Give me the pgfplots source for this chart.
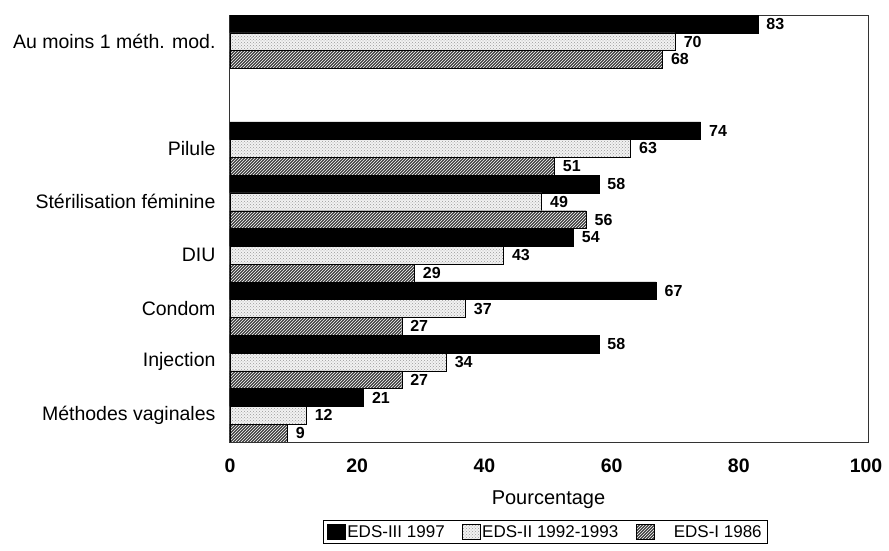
\documentclass[border=0pt]{standalone}
\usepackage{fontspec}
\setmainfont{Liberation Sans}
\usepackage{pgfplots}
\pgfplotsset{compat=1.18}
\usetikzlibrary{patterns}
\begin{document}
\begin{tikzpicture}
\useasboundingbox (-229pt,-109pt) rectangle (660pt,442pt);
\clip (-229pt,-109pt) rectangle (660pt,442pt);
\begin{axis}[
  at={(0,0)}, anchor=south west,
  scale only axis, width=639pt, height=427pt,
  xbar, bar width=0.333,
  xmin=-0.157, xmax=100.31,
  ymin=0.5, ymax=8.5,
  ytick={1,2,3,4,5,6,8},
  yticklabels={Méthodes vaginales, Injection, Condom, DIU, Stérilisation féminine, Pilule, Au moins 1 méth. mod.},
  xtick={0,20,...,100},
  major tick length=0pt,
  /pgf/number format/assume math mode=true,
  xticklabel style={font=\fontsize{19.5}{19.5}\selectfont\bfseries, yshift=-13pt},
  yticklabel style={font=\fontsize{19.5}{19.5}\selectfont, xshift=-10pt},
  xlabel={Pourcentage},
  xlabel style={at={(axis description cs:0.5,-0.136)}, anchor=center, font=\fontsize{20}{20}\selectfont},
  axis line style={black!80, line width=0.6pt},
  point meta=x,
  nodes near coords,
  nodes near coords style={font=\fontsize{16}{16}\selectfont\bfseries, anchor=west, xshift=5pt, black},
  legend columns=3,
  legend image code/.code={\draw[#1, draw=black, line width=0.5pt] (0pt,-7.5pt) rectangle (18pt,7.5pt);},
  legend style={at={(0.495,-0.1827)}, anchor=north, draw=black, line width=0.6pt,
    font=\fontsize{17}{17}\selectfont, inner xsep=4pt, inner ysep=3pt,
    nodes={inner xsep=1.5pt},
    /tikz/every odd column/.append style={column sep=0pt},
    /tikz/every even column/.append style={column sep=16pt}},
]
\addplot[fill=black, draw=black, bar shift=0.333] coordinates {(83,8) (74,6) (58,5) (54,4) (67,3) (58,2) (21,1)};
\addplot[fill=gray!10, draw=black, bar shift=0, postaction={pattern=crosshatch dots, pattern color=gray!80}] coordinates {(70,8) (63,6) (49,5) (43,4) (37,3) (34,2) (12,1)};
\addplot[fill=black!75, draw=black, bar shift=-0.333, postaction={pattern=north east lines, pattern color=white}] coordinates {(68,8) (51,6) (56,5) (29,4) (27,3) (27,2) (9,1)};
\legend{EDS-III 1997, EDS-II 1992-1993, \hspace{18pt}EDS-I 1986}
\end{axis}
\end{tikzpicture}
\end{document}
